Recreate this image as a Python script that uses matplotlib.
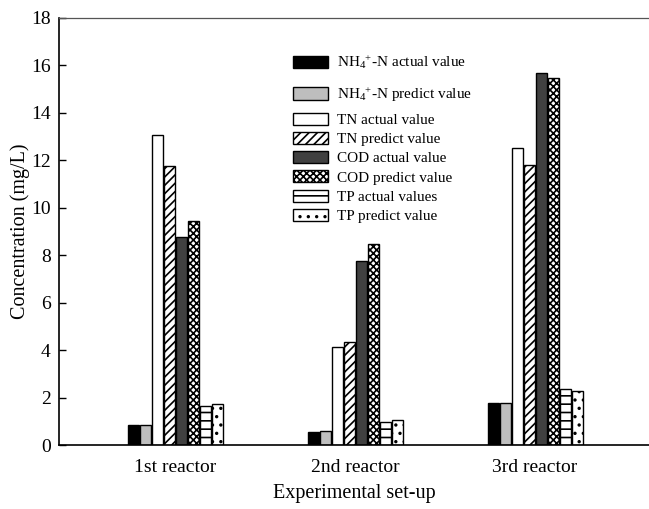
import numpy as np
import matplotlib.pyplot as plt

plt.rcParams['font.family'] = ['Liberation Serif', 'DejaVu Serif']
plt.rcParams['mathtext.fontset'] = 'custom'
plt.rcParams['mathtext.rm'] = 'Liberation Serif'
plt.rcParams['mathtext.it'] = 'Liberation Serif:italic'
plt.rcParams['hatch.linewidth'] = 1.2

reactors = ['1st reactor', '2nd reactor', '3rd reactor']
nh4_actual = [0.86, 0.56, 1.76]
nh4_predict = [0.84, 0.59, 1.75]
tn_actual = [13.07, 4.14, 12.53]
tn_predict = [11.78, 4.33, 11.79]
cod_actual = [8.78, 7.77, 15.67]
cod_predict = [9.44, 8.46, 15.46]
tp_actual = [1.66, 0.96, 2.35]
tp_predict = [1.74, 1.04, 2.28]

series = [ # (label, values, face, hatch)
    (r'NH$_4$$^{+}$-N actual value',  nh4_actual,  'black',   ''),
    (r'NH$_4$$^{+}$-N predict value', nh4_predict, '#bebebe', ''),
    ('TN actual value',               tn_actual,   'white',   ''),
    ('TN predict value',              tn_predict,  'white',   '////'),
    ('COD actual value',              cod_actual,  '#404040', ''),
    ('COD predict value',             cod_predict, 'white',   'xxxxx'),
    ('TP actual values',              tp_actual,   'white',   '--'),
    ('TP predict value',              tp_predict,  'white',   '..'),
]

fig = plt.figure(figsize=(6.49, 5.09), dpi=100)
ax = fig.add_axes([59/649, 1-445/509, 1-59/649, (445-18)/509])

x = np.arange(len(reactors))
pitch = 12/180
width = 11/180
bars = []
for i, (lab, vals, fc, hat) in enumerate(series):
    b = ax.bar(x + (i-3.5)*pitch, vals, width, color=fc, edgecolor='black',
               linewidth=1.0, hatch=hat, label=lab)
    bars.append(b)

ax.set_xlim(-116/180, 474/180)
ax.set_ylim(0, 18)
ax.set_yticks(np.arange(0, 19, 2))
ax.set_xticks(x)
ax.set_xticklabels(reactors, fontsize=14)
ax.tick_params(axis='y', direction='in', length=5, width=1, labelsize=14, pad=6)
ax.tick_params(axis='x', length=0, pad=10)
ax.spines['right'].set_visible(False)
ax.spines['top'].set_color('#555555')
ax.spines['top'].set_linewidth(0.9)
ax.spines['left'].set_linewidth(1.2)
ax.spines['bottom'].set_linewidth(1.2)
ax.set_ylabel('Concentration (mg/L)', fontsize=14.5, labelpad=1)
ax.set_xlabel('Experimental set-up', fontsize=14.5, labelpad=6)

# two legends so the NH4 rows get their extra spacing
leg_kw = dict(frameon=False, fontsize=11, handlelength=2.3, handleheight=0.85,
              handletextpad=0.6, borderpad=0, borderaxespad=0,
              bbox_transform=fig.transFigure, loc='upper left')
leg1 = ax.legend(bars[:2], [s[0] for s in series[:2]], labelspacing=0.93,
                 bbox_to_anchor=(293/649, 1-54/509), **leg_kw)
ax.add_artist(leg1)
ax.legend(bars[2:], [s[0] for s in series[2:]], labelspacing=0.32,
          bbox_to_anchor=(293/649, 1-112.5/509), **leg_kw)

plt.savefig('out.png', dpi=100)
